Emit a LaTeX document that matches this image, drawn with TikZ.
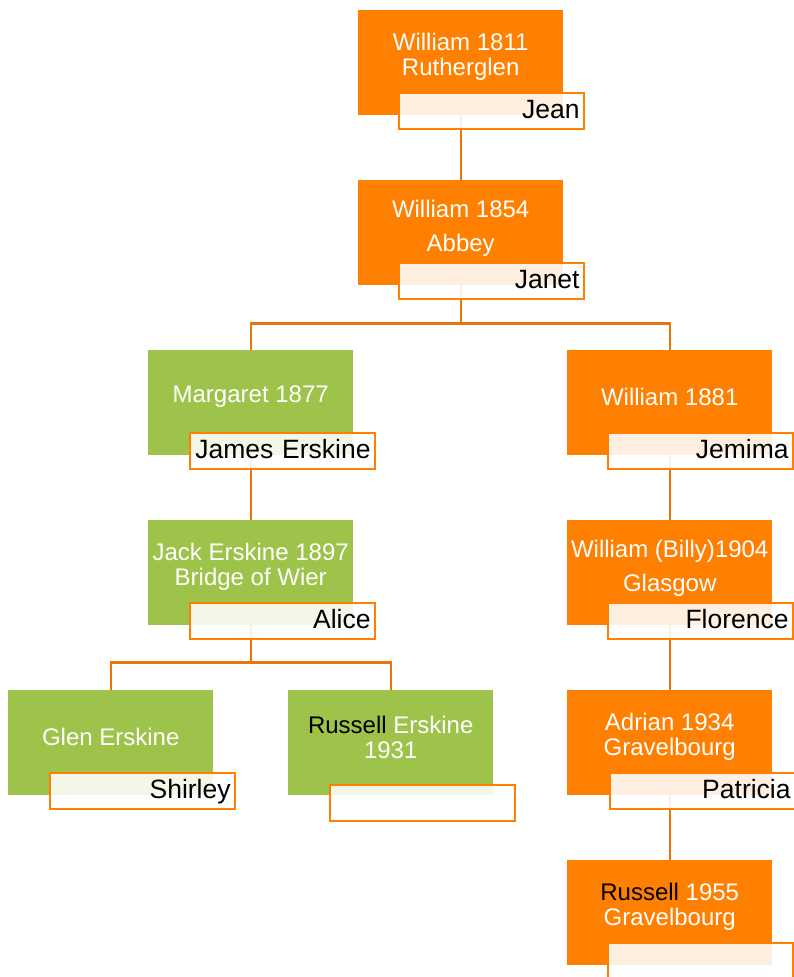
\documentclass[tikz,border=0pt]{standalone}
\usepackage{fontspec}
\setmainfont{Liberation Sans}
\usetikzlibrary{positioning,calc}
\definecolor{treeorange}{RGB}{255,127,0}
\definecolor{treegreen}{RGB}{157,195,74}
\definecolor{treelink}{RGB}{232,116,10}
\tikzset{
  person/.style={rectangle,anchor=north west,minimum width=205pt,minimum height=105pt,inner sep=0pt},
  male/.style={person,fill=treeorange},
  female/.style={person,fill=treegreen},
  who/.style={text=white,align=center,font=\fontsize{24}{25}\selectfont},
  spouse/.style={rectangle,anchor=north west,draw=treeorange,line width=2.2pt,
    fill=white,fill opacity=0.88,text opacity=1,minimum width=185pt,minimum height=36pt,
    text width=176pt,align=right,inner xsep=4.5pt,inner ysep=2pt,
    text height=23pt,text depth=9pt,
    font=\fontsize{26.5}{30}\selectfont},
  link/.style={draw=treelink,line width=2.4pt}
}
\begin{document}
\begin{tikzpicture}[x=1pt,y=-1pt]
    \useasboundingbox (0,0) rectangle (794,977);
    \clip (0,0) rectangle (794,977);
    \node[male] (w1811) at (358,10) {};
    \node[male] (w1854) at (358,180) {};
    \node[female] (marg) at (148,350) {};
    \node[male] (w1881) at (567,350) {};
    \node[female] (jack) at (148,520) {};
    \node[male] (billy) at (567,520) {};
    \node[female] (glen) at (8,690) {};
    \node[female] (russ) at (288,690) {};
    \node[male] (adrian) at (567,690) {};
    \node[male] (r1955) at (567,860) {};
    % lines go under the spouse boxes
    \path[link]
    (w1811.south) -- (w1854.north)
    (w1854.south) -- ++(0,38) -| (marg.north)
    (w1854.south) -- ++(0,38) -| (w1881.north)
    (marg.south) -- (jack.north)
    (w1881.south) -- (billy.north)
    (billy.south) -- (adrian.north)
    (adrian.south) -- (r1955.north)
    (jack.south) -- ++(0,37) -| (glen.north)
    (jack.south) -- ++(0,37) -| (russ.north);
    \node[who] (w1811t) at ($(w1811.north)+(0,47)$) {William 1811\\Rutherglen};
    \node[who] (w1854t) at ($(w1854.north)+(0,48)$) {William 1854\\[9pt]Abbey};
    \node[who] (margt) at ($(marg.north)+(0,47)$) {Margaret 1877};
    \node[who] (w1881t) at ($(w1881.north)+(0,47)$) {William 1881};
    \node[who] (jackt) at ($(jack.north)+(0,47)$) {Jack Erskine 1897\\Bridge of Wier};
    \node[who] (billyt) at ($(billy.north)+(0,48)$) {William (Billy)1904\\[9pt]Glasgow};
    \node[who] (glent) at ($(glen.north)+(0,47)$) {Glen Erskine};
    \node[who] (russt) at ($(russ.north)+(0,47)$) {{\color{black}Russell} Erskine\\1931};
    \node[who] (adriant) at ($(adrian.north)+(0,47)$) {Adrian 1934\\Gravelbourg};
    \node[who] (r1955t) at ($(r1955.north)+(0,47)$) {{\color{black}Russell} 1955\\Gravelbourg};
    \node[spouse] (jean) at (398,92) {Jean};
    \node[spouse] (janet) at (398,262) {Janet};
    \node[spouse] (james) at (189,432) {James Erskine};
    \node[spouse] (jemima) at (607,432) {Jemima};
    \node[spouse] (alice) at (189,602) {Alice};
    \node[spouse] (florence) at (607,602) {Florence};
    \node[spouse] (shirley) at (49,772) {Shirley};
    \node[spouse] (russw) at (329,784) {};
    \node[spouse] (patricia) at (609,772) {Patricia};
    \node[spouse] (r1955w) at (607,942) {};
\end{tikzpicture}
\end{document}
